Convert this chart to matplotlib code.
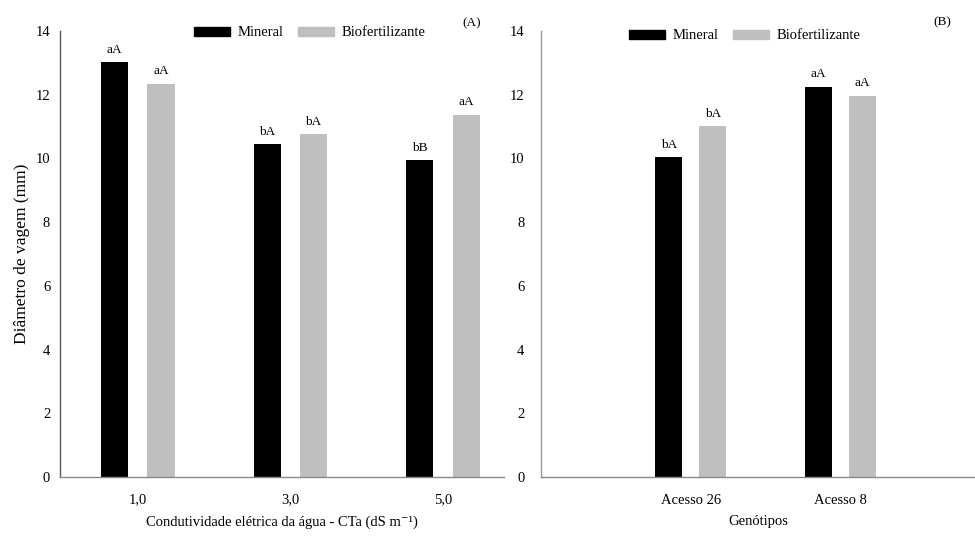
import matplotlib
matplotlib.use("Agg")
import matplotlib.pyplot as plt
import numpy as np
from matplotlib.patches import Patch

plt.rcParams['font.family'] = ['Liberation Serif', 'DejaVu Serif']

cats_a = ['1,0', '3,0', '5,0']
mineral_a = [13.02, 10.45, 9.95]
bio_a = [12.35, 10.77, 11.37]
lab_min_a = ['aA', 'bA', 'bB']
lab_bio_a = ['aA', 'bA', 'aA']

cats_b = ['Acesso 26', 'Acesso 8']
mineral_b = [10.04, 12.25]
bio_b = [11.02, 11.97]
lab_min_b = ['bA', 'aA']
lab_bio_b = ['bA', 'aA']

BLACK = '#000000'
GRAY = '#BFBFBF'

fig = plt.figure(figsize=(9.75, 5.37), dpi=100)
axA = fig.add_axes([0.0615, 0.1117, 0.4555, 0.8306])
axB = fig.add_axes([0.555, 0.1117, 0.445, 0.8306])


def draw(ax, cats, mv, bv, lm, lb, width, off, xlim, xlabel, tag, legxy, tagxy,
         spine_col, ypad):
    x = np.arange(len(cats))
    ax.bar(x - off, mv, width, color=BLACK)
    ax.bar(x + off, bv, width, color=GRAY)
    for xi, v, t in zip(x - off, mv, lm):
        ax.text(xi, v + 0.2, t, ha='center', va='bottom', fontsize=9.5)
    for xi, v, t in zip(x + off, bv, lb):
        ax.text(xi, v + 0.2, t, ha='center', va='bottom', fontsize=9.5)
    ax.set_xlim(*xlim)
    ax.set_ylim(0, 14)
    ax.set_yticks(range(0, 15, 2))
    ax.set_xticks(x)
    ax.set_xticklabels(cats)
    ax.tick_params(length=0, labelsize=10.5)
    ax.tick_params(axis='x', pad=12)
    ax.tick_params(axis='y', pad=ypad)
    for s in ['top', 'right']:
        ax.spines[s].set_visible(False)
    ax.spines['left'].set_color(spine_col)
    ax.spines['bottom'].set_color('#888888')
    ax.spines['left'].set_linewidth(1.0)
    ax.spines['bottom'].set_linewidth(1.0)
    ax.set_xlabel(xlabel, fontsize=10.5, labelpad=6)
    handles = [Patch(color=BLACK, label='Mineral'), Patch(color=GRAY, label='Biofertilizante')]
    ax.legend(handles=handles, loc='center', bbox_to_anchor=legxy, ncol=2,
              frameon=False, fontsize=10.5, handlelength=2.5, handleheight=0.55,
              columnspacing=1.0, handletextpad=0.5, borderpad=0, borderaxespad=0)
    ax.text(tagxy[0], tagxy[1], tag, transform=ax.transAxes, ha='center', va='center',
            fontsize=9.5)


draw(axA, cats_a, mineral_a, bio_a, lab_min_a, lab_bio_a, 0.177, 0.152, (-0.51, 2.40),
     'Condutividade elétrica da água - CTa (dS m⁻¹)', '(A)', (0.562, 0.9955),
     (0.926, 1.018), '#555555', 7)
draw(axB, cats_b, mineral_b, bio_b, lab_min_b, lab_bio_b, 0.18, 0.147, (-1.0, 1.9),
     'Genótipos', '(B)', (0.469, 0.989), (0.924, 1.02), '#999999', 12)
axA.set_ylabel('Diâmetro de vagem (mm)', fontsize=12.5, labelpad=4)

fig.savefig('out.png', dpi=100)
